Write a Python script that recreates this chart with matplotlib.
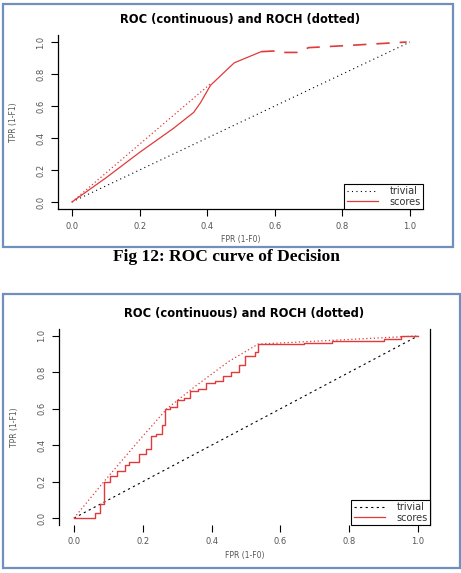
import numpy as np
import matplotlib
matplotlib.use('Agg')
from matplotlib import pyplot as plt
from matplotlib.patches import Rectangle

# Panel 1 (Decision) - ROC
roc1_fpr = [0, 0.1, 0.2, 0.3, 0.36, 0.38, 0.41, 0.48, 0.56, 0.61, 0.62, 0.67, 0.70, 0.83, 0.99]
roc1_tpr = [0, 0.15, 0.31, 0.46, 0.56, 0.62, 0.73, 0.87, 0.94, 0.945, 0.935, 0.935, 0.965, 0.98, 1.0]
hull1_fpr = [0, 0.41, 0.48, 0.56, 0.70, 1.0]
hull1_tpr = [0, 0.74, 0.87, 0.94, 0.97, 1.0]

# Panel 2 - stepped ROC
roc2_fpr = [0, 0.027, 0.061, 0.075, 0.087, 0.105, 0.125, 0.148, 0.16, 0.19, 0.21, 0.225,
            0.238, 0.256, 0.266, 0.28, 0.30, 0.32, 0.337, 0.36, 0.385, 0.41, 0.434, 0.457,
            0.48, 0.497, 0.527, 0.535, 0.67, 0.75, 0.84, 0.9, 0.95, 1.0]
roc2_tpr = [0, 0, 0.03, 0.08, 0.2, 0.23, 0.26, 0.29, 0.31, 0.35, 0.38, 0.45,
            0.46, 0.51, 0.6, 0.61, 0.65, 0.66, 0.7, 0.71, 0.74, 0.75, 0.78, 0.8,
            0.84, 0.89, 0.91, 0.955, 0.96, 0.97, 0.97, 0.985, 1.0, 1.0]
hull2_fpr = [0, 0.087, 0.2, 0.27, 0.35, 0.45, 0.535, 1.0]
hull2_tpr = [0, 0.2, 0.45, 0.6, 0.72, 0.86, 0.955, 1.0]

trivial = [0, 1]
ticks = [0.0, 0.2, 0.4, 0.6, 0.8, 1.0]
tick_labels = ['0.0', '0.2', '0.4', '0.6', '0.8', '1.0']

title = 'ROC (continuous) and ROCH (dotted)'
xlab = 'FPR (1-F0)'
ylab = 'TPR (1-F1)'
caption = 'Fig 12: ROC curve of Decision'

red = '#e03a3a'
grey = '#555555'
blue = '#6f8fbf'

fig = plt.figure(figsize=(4.61, 5.73), dpi=100)
W, H = 461.0, 573.0

def px_axes(x0, y0, x1, y1):
    # pixel box (top-left origin) -> figure axes
    return fig.add_axes([x0 / W, 1 - y1 / H, (x1 - x0) / W, (y1 - y0) / H])

def style(ax, xlim, ylim, bottom_spine):
    ax.set_xlim(xlim)
    ax.set_ylim(ylim)
    ax.spines['top'].set_visible(False)
    ax.spines['right'].set_visible(False)
    ax.spines['bottom'].set_visible(bottom_spine)
    for s in ax.spines.values():
        s.set_linewidth(0.9)
    ax.set_xticks(ticks)
    ax.set_xticklabels(tick_labels)
    ax.set_yticks(ticks)
    ax.set_yticklabels(tick_labels, rotation=90, va='center')
    ax.tick_params(length=5, width=0.8, labelsize=6, labelcolor=grey, pad=4)
    ax.set_xlabel(xlab, fontsize=5.5, color=grey, labelpad=3)
    ax.set_ylabel(ylab, fontsize=5.5, color=grey, labelpad=13)
    ax.set_title(title, fontsize=8.3, fontweight='bold', pad=9)

def add_legend(ax, triv_ls):
    leg = ax.legend([plt.Line2D([], [], color='black', lw=0.8, ls=triv_ls),
                     plt.Line2D([], [], color=red, lw=0.9)],
                    ['trivial', 'scores'], loc='lower right', fontsize=7,
                    frameon=True, fancybox=False, borderaxespad=0, handlelength=3.2,
                    handletextpad=1.2, labelspacing=0.05, borderpad=0.25)
    leg.get_frame().set_edgecolor('black')
    leg.get_frame().set_linewidth(0.8)
    leg.get_frame().set_alpha(None)
    for t in leg.get_texts():
        t.set_color('#333333')

# ---- top panel ----
ax1 = px_axes(58, 35, 423, 209)
ax1.plot(trivial, trivial, color='black', lw=0.8, ls=(0, (1, 3)))
ax1.plot(roc1_fpr[:9], roc1_tpr[:9], color=red, lw=0.9)
ax1.plot(roc1_fpr[8:], roc1_tpr[8:], color=red, lw=1.2, ls=(0, (8, 6)))
ax1.plot(hull1_fpr[:2], hull1_tpr[:2], color=red, lw=0.9, ls=(0, (1, 2)))
style(ax1, (-0.0414, 1.0385), (-0.044, 1.044), True)
add_legend(ax1, (0, (1, 3)))

# ---- bottom panel ----
ax2 = px_axes(59, 329, 430, 525)
ax2.plot(trivial, trivial, color='black', lw=0.8, ls=(0, (2, 3)))
ax2.plot(roc2_fpr, roc2_tpr, color=red, lw=1.0, drawstyle='steps-post')
ax2.plot(hull2_fpr, hull2_tpr, color=red, lw=0.9, ls=(0, (1, 2)))
style(ax2, (-0.0436, 1.035), (-0.038, 1.038), False)
ax2.spines['right'].set_visible(True)
add_legend(ax2, (0, (2, 3)))

# blue frames round each panel
fig.patches.append(Rectangle((3 / W, 1 - 247 / H), 450 / W, 243 / H, transform=fig.transFigure,
                             fill=False, edgecolor=blue, lw=1.6))
fig.patches.append(Rectangle((3 / W, 1 - 568 / H), 457 / W, 274 / H, transform=fig.transFigure,
                             fill=False, edgecolor=blue, lw=1.6))

fig.text(226 / W, 1 - 257 / H, caption, ha='center', va='center', fontsize=12.5,
         fontweight='bold', family='Liberation Serif')

fig.savefig('out.png', dpi=100)
